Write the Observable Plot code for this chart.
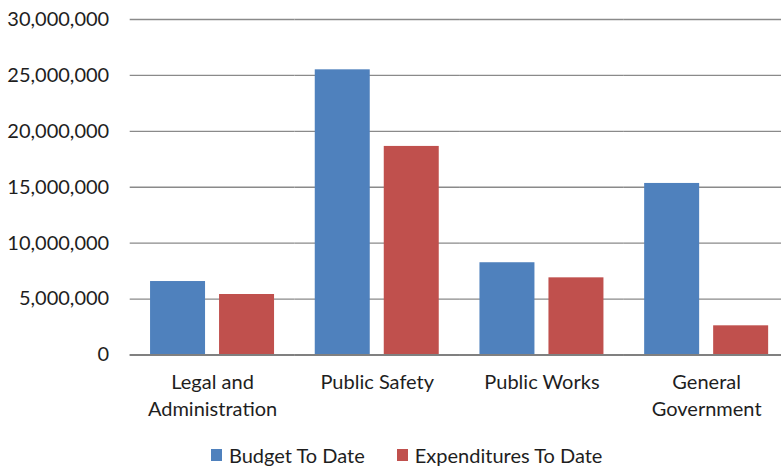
<!DOCTYPE html>
<html>
<head>
<meta charset="utf-8">
<script src="https://cdn.jsdelivr.net/npm/d3@7"></script>
<script src="https://cdn.jsdelivr.net/npm/@observablehq/plot@0.6"></script>
<style>
  html, body { margin: 0; padding: 0; background: #fff; }
  body { width: 781px; height: 466px; position: relative; overflow: hidden; font-family: Lato, "Open Sans", sans-serif; }
  #chart { position: absolute; left: 0; top: 0; }
  #legend { position: absolute; left: 211px; top: 443px; display: flex; align-items: center; font-size: 20px; color: #1e1e1e; line-height: 24px; }
  .sw { width: 11px; height: 12px; display: inline-block; margin-right: 7px; }
  .item { display: flex; align-items: center; }
</style>
</head>
<body>
<div id="chart"></div>
<div id="legend"></div>
<script>
const categories = ["Legal and\nAdministration", "Public Safety", "Public Works", "General\nGovernment"];
const seriesNames = ["Budget To Date", "Expenditures To Date"];
const budget = [6570000, 25500000, 8250000, 15340000];
const expenditures = [5410000, 18650000, 6900000, 2610000];
const colors = ["#4F81BD", "#C0504D"];
const yTicks = [0, 5000000, 10000000, 15000000, 20000000, 25000000, 30000000];

const data = [];
categories.forEach((c, i) => {
  data.push({category: c, series: seriesNames[0], value: budget[i]});
  data.push({category: c, series: seriesNames[1], value: expenditures[i]});
});

const chart = Plot.plot({
  width: 781,
  height: 425,
  marginLeft: 129.7,
  marginRight: -7.5,
  marginTop: 19,
  marginBottom: 70.5,
  style: {fontFamily: "Lato, 'Open Sans', sans-serif", fontSize: "20px", color: "#1e1e1e", background: "#fff", overflow: "hidden"},
  fx: {domain: categories, padding: 0, round: false},
  x: {domain: seriesNames, paddingInner: 0.203, paddingOuter: 0.295, round: false, axis: null},
  y: {domain: [0, 30000000]},
  color: {domain: seriesNames, range: colors},
  marks: [
    Plot.gridY(yTicks, {stroke: "#8a8a8a", strokeOpacity: 1, strokeWidth: 1.3}),
    Plot.barY(data, {fx: "category", x: "series", y: "value", fill: "series"}),
    Plot.ruleY([0], {stroke: "#808080", strokeWidth: 2}),
    Plot.axisY(yTicks, {tickSize: 0, tickPadding: 21, tickFormat: d3.format(","), label: null, fill: "#1e1e1e"}),
    Plot.axisFx({anchor: "bottom", tickSize: 0, tickPadding: 15, label: null, lineHeight: 1.35, fill: "#1e1e1e"})
  ]
});
document.getElementById("chart").appendChild(chart);

const legend = document.getElementById("legend");
seriesNames.forEach((s, i) => {
  const item = document.createElement("span");
  item.className = "item";
  if (i > 0) item.style.marginLeft = "32px";
  const sw = document.createElement("span");
  sw.className = "sw";
  sw.style.background = colors[i];
  item.appendChild(sw);
  item.appendChild(document.createTextNode(s));
  legend.appendChild(item);
});
</script>
</body>
</html>
